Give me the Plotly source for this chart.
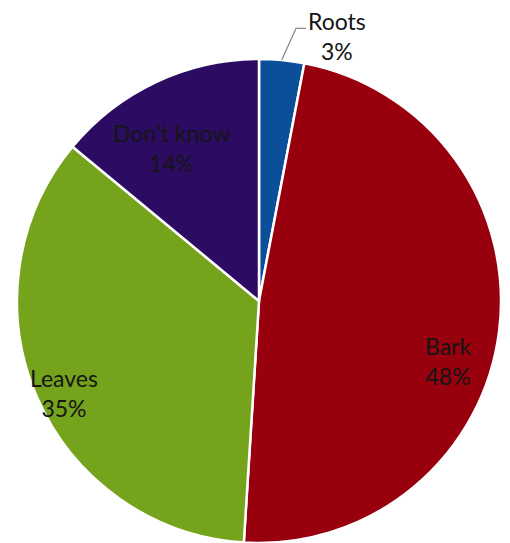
import math
import plotly.graph_objects as go

labels = ["Roots", "Bark", "Leaves", "Don't know"]
values = [3, 48, 35, 14]
colors = ["#0b4f98", "#98000e", "#76a31c", "#2c0b62"]

# label placement style: angular fraction within slice, radial fraction of radius
label_angle_frac = [1.52, 0.56, 0.484, 0.41]
label_radius_frac = [1.14, 0.82, 0.89, 0.73]

W, H = 510, 543
CX, CY, R = 259.0, 301.0, 242.0  # pixel centre/radius of the pie
FONT = dict(family="Lato, sans-serif", size=23, color="#151515")

dom_x = [(CX - R) / W, (CX + R) / W]
dom_y = [1 - (CY + R) / H, 1 - (CY - R) / H]

fig = go.Figure(go.Pie(
    labels=labels,
    values=values,
    sort=False,
    direction="clockwise",
    rotation=0,
    marker=dict(colors=colors, line=dict(color="white", width=2.5)),
    textinfo="none",
    hoverinfo="label+percent",
    domain=dict(x=dom_x, y=dom_y),
    showlegend=False,
    automargin=False,
))

def px_to_paper(x, y):
    return x / W, 1 - y / H

total = sum(values)
start = 0.0
annotations = []
shapes = []
for i, (lab, v) in enumerate(zip(labels, values)):
    span = v / total * 360.0
    mid = start + span / 2
    ang = math.radians(start + span * label_angle_frac[i])
    r = R * label_radius_frac[i]
    lx = CX + r * math.sin(ang)
    ly = CY - r * math.cos(ang)
    pct = round(v / total * 100)
    ax, ay = px_to_paper(lx, ly)
    annotations.append(dict(
        x=ax, y=ay, xref="paper", yref="paper",
        text=f"{lab}<br>{pct}%", showarrow=False,
        xanchor="center", yanchor="middle", align="center",
        font=FONT,
    ))
    if label_radius_frac[i] > 1:
        # leader line from slice edge to the outside label
        m = math.radians(mid)
        sx, sy = CX + R * math.sin(m), CY - R * math.cos(m)
        ex, ey = lx - 41, ly - 8
        fx, fy = lx - 31, ly - 8
        p = [px_to_paper(*q) for q in [(sx, sy), (ex, ey), (fx, fy)]]
        shapes.append(dict(
            type="path", xref="paper", yref="paper",
            path=f"M {p[0][0]},{p[0][1]} L {p[1][0]},{p[1][1]} L {p[2][0]},{p[2][1]}",
            line=dict(color="#8c8c8c", width=1.3),
        ))
    start += span

fig.update_layout(
    width=W, height=H,
    margin=dict(l=0, r=0, t=0, b=0),
    paper_bgcolor="white",
    plot_bgcolor="white",
    annotations=annotations,
    shapes=shapes,
)

fig.write_html("out.html")
